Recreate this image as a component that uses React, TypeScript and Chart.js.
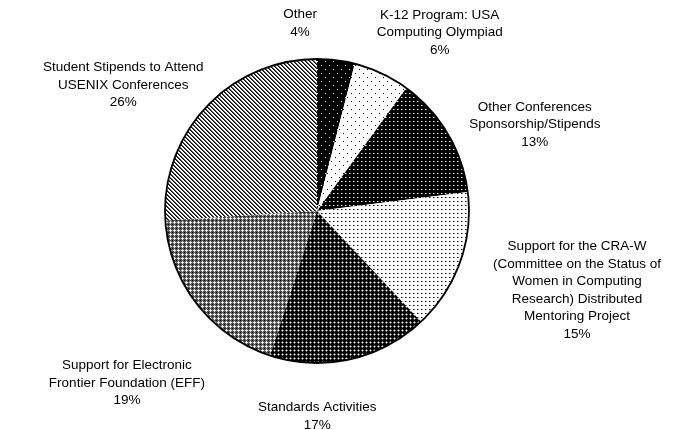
import React, { useEffect, useRef } from 'react';
import { Chart, registerables } from 'chart.js';
Chart.register(...registerables);

const categories: string[][] = [
  ['Other'],
  ['K-12 Program: USA', 'Computing Olympiad'],
  ['Other Conferences', 'Sponsorship/Stipends'],
  ['Support for the CRA-W', '(Committee on the Status of', 'Women in Computing', 'Research) Distributed', 'Mentoring Project'],
  ['Standards Activities'],
  ['Support for Electronic', 'Frontier Foundation (EFF)'],
  ['Student Stipends to Attend', 'USENIX Conferences'],
];
const values = [4, 6, 13, 15, 17, 19, 26];

// label block offset from arc outer mid-point (layout only)
const labelOffsets: [number, number][] = [
  [-36, -37], [58, -41], [87, -9], [117, 28], [-33, 57], [-70, 79], [-83, -22],
];

type PatternKind = 'sparseWhite' | 'sparseBlack' | 'denseWhite' | 'denseBlack' | 'darkCross' | 'lightCross' | 'stripes';
const patternKinds: PatternKind[] = ['sparseWhite', 'sparseBlack', 'denseWhite', 'denseBlack', 'darkCross', 'lightCross', 'stripes'];

function makePattern(ctx: CanvasRenderingContext2D, kind: PatternKind): CanvasPattern | string {
  const c = document.createElement('canvas');
  let size = 4;
  if (kind === 'sparseWhite' || kind === 'sparseBlack') size = 8;
  c.width = size; c.height = size;
  const g = c.getContext('2d')!;
  const px = (x: number, y: number, col: string) => { g.fillStyle = col; g.fillRect(x, y, 1, 1); };
  switch (kind) {
    case 'sparseWhite':
      g.fillStyle = '#000'; g.fillRect(0, 0, size, size);
      px(1, 1, '#fff'); px(5, 5, '#fff');
      break;
    case 'sparseBlack':
      g.fillStyle = '#fff'; g.fillRect(0, 0, size, size);
      px(3, 1, '#000'); px(7, 5, '#000');
      break;
    case 'denseWhite':
      g.fillStyle = '#000'; g.fillRect(0, 0, size, size);
      px(1, 1, '#fff'); px(2, 1, '#777');
      break;
    case 'denseBlack':
      g.fillStyle = '#fff'; g.fillRect(0, 0, size, size);
      px(1, 1, '#000'); px(2, 1, '#888');
      break;
    case 'darkCross':
      g.fillStyle = '#000'; g.fillRect(0, 0, size, size);
      px(2, 2, '#fff'); px(1, 2, '#777'); px(3, 2, '#777'); px(2, 1, '#777'); px(2, 3, '#777');
      break;
    case 'lightCross':
      g.fillStyle = '#555'; g.fillRect(0, 0, size, size);
      px(2, 2, '#fff'); px(1, 2, '#ddd'); px(3, 2, '#ddd'); px(2, 1, '#ddd'); px(2, 3, '#ddd');
      px(0, 0, '#000');
      break;
    case 'stripes':
      g.fillStyle = '#fff'; g.fillRect(0, 0, size, size);
      for (let y = 0; y < size; y++) { px(y % size, y, '#000'); px((y + 1) % size, y, '#555'); }
      break;
  }
  return ctx.createPattern(c, 'repeat') || '#888';
}

const FONT = '13.5px Arial, "Liberation Sans", sans-serif';
const LINE_H = 17.5;

const labelPlugin = {
  id: 'pieLabels',
  afterDatasetsDraw(chart: any) {
    const ctx: CanvasRenderingContext2D = chart.ctx;
    const meta = chart.getDatasetMeta(0);
    ctx.save();
    if (meta.data.length) {
      const a0 = meta.data[0];
      ctx.beginPath();
      ctx.arc(a0.x, a0.y, a0.outerRadius, 0, Math.PI * 2);
      ctx.lineWidth = 1.8;
      ctx.strokeStyle = '#000';
      ctx.stroke();
    }
    ctx.font = FONT;
    ctx.fillStyle = '#000';
    ctx.textAlign = 'center';
    ctx.textBaseline = 'middle';
    meta.data.forEach((arc: any, i: number) => {
      const mid = (arc.startAngle + arc.endAngle) / 2;
      const ax = arc.x + Math.cos(mid) * arc.outerRadius;
      const ay = arc.y + Math.sin(mid) * arc.outerRadius;
      const [dx, dy] = labelOffsets[i];
      const lines = [...categories[i], `${values[i]}%`];
      const cx = ax + dx;
      const cy = ay + dy;
      lines.forEach((ln, j) => {
        ctx.fillText(ln, cx, cy + (j - (lines.length - 1) / 2) * LINE_H);
      });
    });
    ctx.restore();
  },
};

export default function App() {
  const ref = useRef<HTMLCanvasElement>(null);
  useEffect(() => {
    const canvas = ref.current!;
    const ctx = canvas.getContext('2d')!;
    const bgs = patternKinds.map((k) => makePattern(ctx, k));
    const chart = new Chart(ctx, {
      type: 'pie',
      data: {
        labels: categories.map((c) => c.join(' ')),
        datasets: [{
          data: values,
          backgroundColor: bgs as any,
          borderWidth: 0,
          hoverBorderWidth: 0,
          hoverOffset: 0,
          offset: 0,
        } as any],
      },
      options: {
        responsive: false,
        animation: false,
        events: [],
        layout: { padding: { left: 165, right: 205, top: 59, bottom: 67 } },
        plugins: { legend: { display: false }, tooltip: { enabled: false } },
      },
      plugins: [labelPlugin],
    });
    return () => chart.destroy();
  }, []);
  return (
    <div style={{ position: 'fixed', left: 0, top: 0, width: 674, height: 430, background: '#fff' }}>
      <canvas ref={ref} width={674} height={430} style={{ display: 'block' }} />
    </div>
  );
}
